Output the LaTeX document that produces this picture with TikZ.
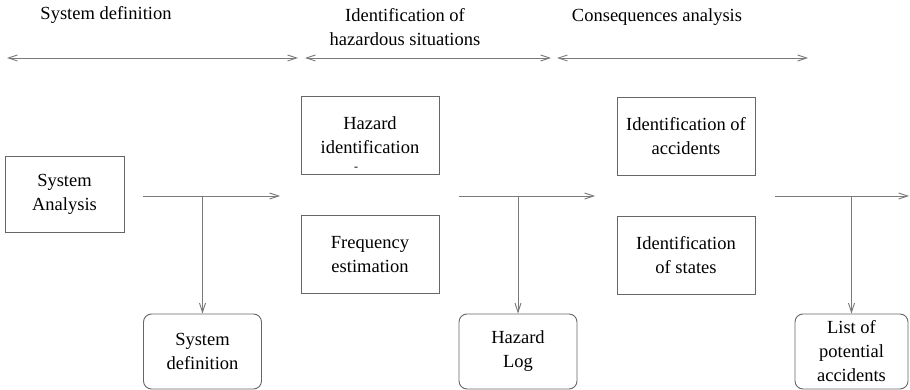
\documentclass[tikz,border=0pt]{standalone}
\usepackage{fontspec}
\setmainfont{Liberation Serif}
\newfontfamily\diagfont{Liberation Serif}
\usetikzlibrary{arrows.meta}
\definecolor{edgegray}{HTML}{666666}
\definecolor{linegray}{HTML}{7A7A7A}
\begin{document}
\begin{tikzpicture}[x=1pt,y=-1pt,
  every node/.style={font=\diagfont\fontsize{18.5}{24}\selectfont, align=center, inner sep=0pt},
  box/.style={draw=edgegray, line width=0.9pt, minimum width=#1, minimum height=78pt},
  box/.default=138pt,
  outbox/.style={draw=edgegray, line width=0.9pt, rounded corners=8pt, minimum width=#1, minimum height=75pt},
  outbox/.default=118pt,
  flow/.style={draw=linegray, line width=0.9pt, -{Straight Barb[length=9pt,width=6pt]}},
  span/.style={draw=linegray, line width=0.9pt, {Straight Barb[length=9pt,width=6pt]}-{Straight Barb[length=9pt,width=6pt]}}
]
\useasboundingbox (0,0) rectangle (910,390);

% phase headings
\node (h1) at (106,15) {System definition};
\node (h2) at (405,27) {Identification of\\hazardous situations};
\node (h3) at (657,17) {Consequences analysis};

% phase spans
\coordinate (s1l) at (7,58);   \coordinate (s1r) at (298,58);
\coordinate (s2l) at (305,58); \coordinate (s2r) at (551,58);
\coordinate (s3l) at (557,58); \coordinate (s3r) at (808,58);
\draw[span] (s1l) -- (s1r);
\draw[span] (s2l) -- (s2r);
\draw[span] (s3l) -- (s3r);

% activity boxes
\node[box=119pt, minimum height=76pt] (sa) at (64.5,194) {System\\Analysis};
\node[box] (hi) at (370,135.5) {Hazard\\identification};
\node[font=\diagfont\fontsize{12}{12}\selectfont] (dash) at (356,169) {-};
\node[box] (fe) at (370,254.5) {Frequency\\estimation};
\node[box] (ia) at (686,136.5) {Identification of\\accidents};
\node[box] (is) at (686,255) {Identification\\of states};

% output documents
\node[outbox] (sd) at (202.5,351.5) {System\\definition};
\node[outbox] (hl) at (518,351.5) {Hazard\\Log};
\node[outbox=113pt] (lp) at (851.5,351.5) {List of\\potential\\accidents};

% flow lines with branches to the outputs
\coordinate (f1s) at (143,196); \coordinate (f1e) at (280,196); \coordinate (b1) at (202.5,196);
\coordinate (f2s) at (459,196); \coordinate (f2e) at (595,196); \coordinate (b2) at (518,196);
\coordinate (f3s) at (775,196); \coordinate (f3e) at (909,196); \coordinate (b3) at (851.5,196);
\draw[flow] (f1s) -- (f1e);
\draw[flow] (f2s) -- (f2e);
\draw[flow] (f3s) -- (f3e);
\draw[flow] (b1) -- (sd.north);
\draw[flow] (b2) -- (hl.north);
\draw[flow] (b3) -- (lp.north);
\end{tikzpicture}
\end{document}
